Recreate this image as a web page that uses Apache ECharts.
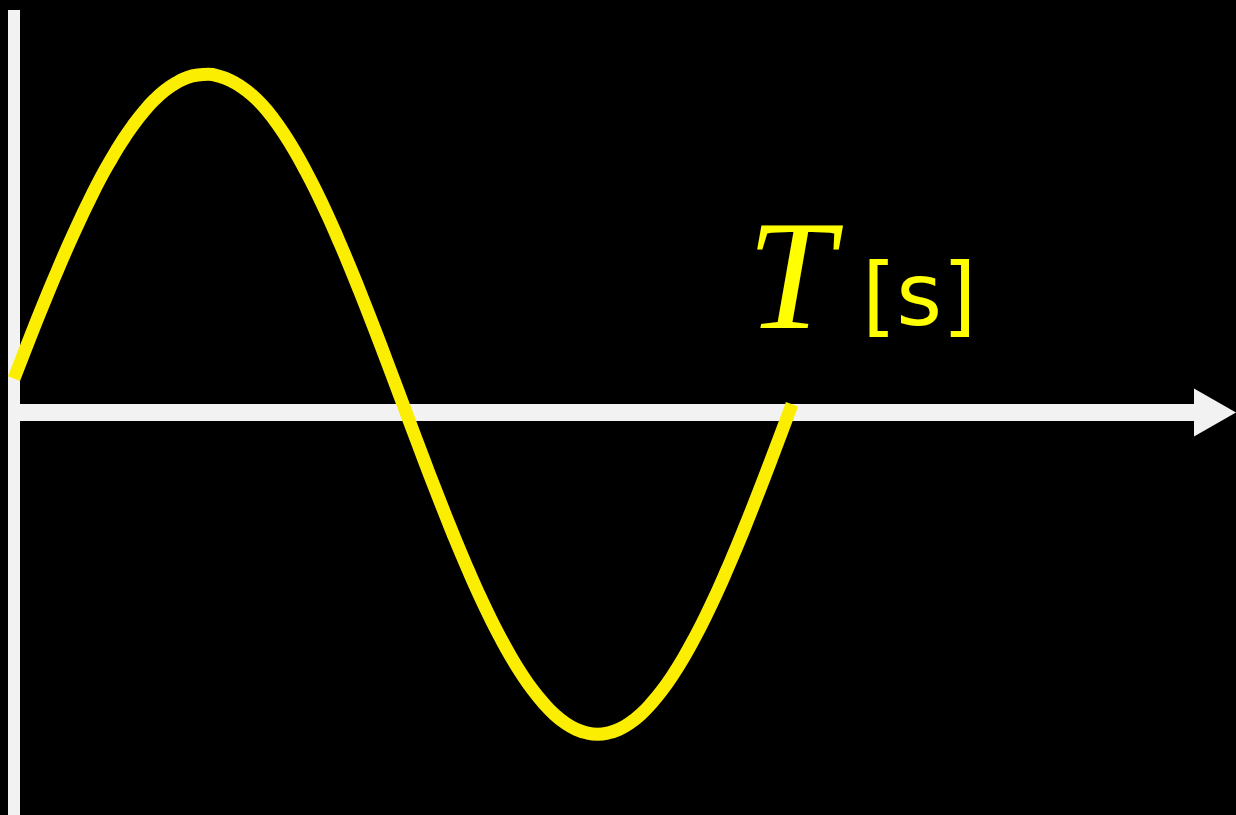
<!DOCTYPE html>
<html>
<head>
<meta charset="utf-8">
<script src="https://cdn.jsdelivr.net/npm/echarts@6/dist/echarts.min.js"></script>
<style>
  html, body { margin: 0; padding: 0; background: #000; }
  #chart { width: 1236px; height: 815px; }
</style>
</head>
<body>
<div id="chart"></div>
<script>
// phase along one period T, in degrees (360 = T)
const phase = [0, 5, 10, 15, 20, 25, 30, 35, 40, 45, 50, 55, 60, 65, 70, 75, 80, 85,
  90, 95, 100, 105, 110, 115, 120, 125, 130, 135, 140, 145, 150, 155, 160, 165, 170, 175,
  180, 185, 190, 195, 200, 205, 210, 215, 220, 225, 230, 235, 240, 245, 250, 255, 260, 265,
  270, 275, 280, 285, 290, 295, 300, 305, 310, 315, 320, 325, 330, 335, 340, 345, 350, 355, 360]

// wave height
const values = [0.103, 0.187, 0.270, 0.351, 0.429, 0.505, 0.577, 0.645, 0.710, 0.768,
  0.822, 0.870, 0.912, 0.948, 0.977, 0.999, 1.015, 1.023,
  1.025, 1.019, 1.007, 0.988, 0.963, 0.931, 0.891, 0.844, 0.791, 0.732,
  0.668, 0.599, 0.525, 0.448, 0.367, 0.284, 0.199, 0.112,
  0.025, -0.062, -0.149, -0.234, -0.317, -0.398, -0.475, -0.549, -0.618, -0.682,
  -0.741, -0.794, -0.841, -0.881, -0.915, -0.941, -0.960, -0.971,
  -0.975, -0.971, -0.960, -0.941, -0.915, -0.881, -0.841, -0.794, -0.741, -0.682,
  -0.618, -0.549, -0.475, -0.398, -0.317, -0.234, -0.149, -0.062, 0.025]

const axisLabelText = 'T'
const unitText = '[s]'

let chart = echarts.init(document.getElementById('chart'))

let axisColor = '#f2f2f2'

chart.setOption({
    backgroundColor: '#000',
    animation: false,
    grid: { left: 14, right: 21, top: 10, bottom: 0 },
    xAxis: {
        type: 'value',
        min: 0,
        max: 555.7,
        axisLine: {
            show: true,
            symbol: ['none', 'triangle'],
            symbolSize: [48, 42],
            lineStyle: { color: axisColor, width: 17, cap: 'butt' }
        },
        axisTick: { show: false },
        axisLabel: { show: false },
        splitLine: { show: false }
    },
    yAxis: {
        type: 'value',
        min: -1.22,
        max: 1.22,
        axisLine: {
            show: true,
            lineStyle: { color: axisColor, width: 12, cap: 'butt' }
        },
        axisTick: { show: false },
        axisLabel: { show: false },
        splitLine: { show: false }
    },
    series: [{
        type: 'line',
        data: phase.map((p, i) => [p, values[i]]),
        smooth: true,
        showSymbol: false,
        clip: true,
        lineStyle: { color: '#fcee00', width: 13, cap: 'butt', join: 'round' }
    }],
    graphic: [
        {
            type: 'text',
            x: 747,
            y: 287,
            style: {
                text: axisLabelText,
                font: 'italic 156px "Liberation Serif"',
                fill: '#ffff00',
                verticalAlign: 'middle'
            }
        },
        {
            type: 'text',
            x: 862,
            y: 302,
            style: {
                text: unitText,
                font: '88px "DejaVu Sans"',
                fill: '#ffff00',
                verticalAlign: 'middle'
            }
        }
    ]
})
</script>
</body>
</html>
